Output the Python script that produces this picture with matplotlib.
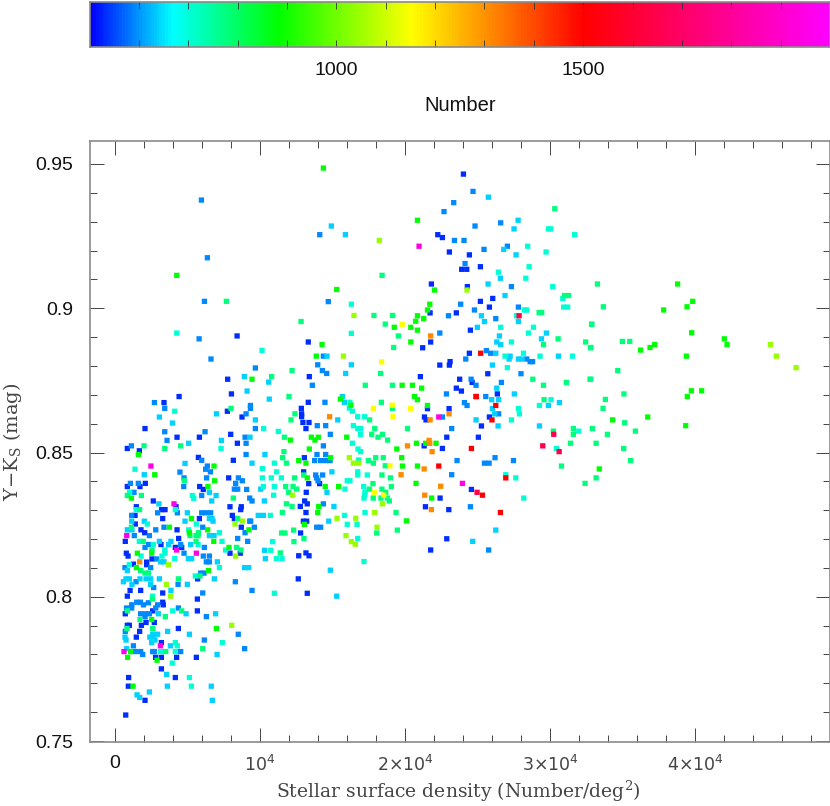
import numpy as np
import matplotlib
matplotlib.use("Agg")
import matplotlib.pyplot as plt
from matplotlib.colors import LinearSegmentedColormap, Normalize
from matplotlib.ticker import FixedLocator, FixedFormatter, MultipleLocator

# (density in thousands per deg^2, Y-Ks colour) grouped by Number class
pts_n530 = [(24.03,.9465),(22.26,.9255),(22.58,.9245),(23.06,.9195),(24.44,.9185),(25.2,.9144),(23.91,.9135),(24.26,.9135),(21.82,.9084),(24.3,.9075),(26.05,.9034),(25.2,.9024),(25.82,.9004),(21.73,.8984),(23.54,.8984),(24.51,.8924),(21.77,.8883),(21.22,.8863),(24.44,.8844),(23.11,.8815),(22.4,.8803),(23.06,.8803),(25.71,.8773),(21.06,.8763),(23.77,.8754),(24.63,.8743),(23.54,.8723),(23.89,.8713),(26.37,.8703),(24.9,.8694),(21.55,.8652),(23.04,.8652),(21.34,.8623),(21.45,.8613),(25.82,.8623),(25.27,.8592),(22.88,.8553),(25.06,.8553),(21.32,.8523),(22.58,.8514),(24.58,.8372),(22.42,.8342),(21.41,.8312),(23.02,.8302),(22.88,.8201),(21.77,.8162),
(13.33,.8883),(13.4,.8763),(13.33,.8674),(12.85,.8653),(12.87,.8634),(12.87,.8624),(12.96,.8604),(13.38,.8604),(13.17,.8583),(13.06,.8482),(13.01,.8433),(14.11,.8392),(13.36,.8392),(13.19,.8362),(13.08,.8332),(13.26,.8322),(12.78,.8313),(13.17,.8292),(12.99,.8262),(13.22,.8262),(12.8,.8221),(13.17,.8152),(13.38,.8142),(12.67,.8142),(12.64,.8062),(13.26,.8012),
(7.77,.8754),(8.03,.8703),(4.42,.8694),(3.38,.8673),(7.75,.8643),(8.76,.8623),(2.07,.8583),(4.28,.8553),(5.82,.8553),(7.98,.8563),(8.44,.8532),(.85,.8514),(8.42,.8904),(1.68,.8506),
(5.75,.8483),(8.16,.8473),(7.84,.8412),(.85,.8382),(2.09,.8393),(1.72,.8382),(5.84,.8382),(6.09,.8372),(2.64,.8332),(4.21,.8312),(1.47,.8312),(3.22,.8302),(3.45,.8302),(7.93,.8312),(8.71,.8312),(8.67,.8302),(1.38,.8282),(3.29,.8271),(8.09,.8282),(8.23,.8271),(5.82,.8271),(1.4,.8252),(8.71,.8241),(1.79,.8232),(2.05,.8222),(4.28,.8232),(4.39,.8202),(.71,.8192),(3.17,.8181),(4.16,.8171),(4.6,.8171),(.78,.8151),(.9,.8141),(2.55,.8131),(8.64,.8151),(7.93,.8151),(1.27,.8113),(2.18,.812),(2.18,.8111),(5.7,.8062),(1.04,.8022),(1.77,.8022),(3.29,.8013),(.85,.8002),(5.68,.7992),(3.29,.7981),(3.33,.7972),(.71,.7941),(5.68,.7951),(2.6,.7951),(2.14,.7911),(2.71,.7911),(.85,.7901),(.99,.7901),(1.82,.7901),(4.37,.789),(1.7,.788),(1.47,.786),(3.2,.7841),(2.8,.779),(3.2,.779),(4.25,.779),(5.61,.779),(3.2,.775),(.94,.772),(4.16,.772),(.92,.769),(2.07,.7641),(.74,.759)]

pts_n590 = [(24.69,.9405),(23.36,.9366),(22.69,.9335),(24.83,.9285),(26.6,.9296),(23.41,.9235),(24.07,.9235),(25.45,.9204),(27.06,.9215),(24.14,.9155),(27.34,.9075),(23.84,.9014),(27.82,.9004),(24.79,.8994),(23.0,.8974),(26.26,.8964),(22.4,.8914),(25.61,.8853),(25.91,.8844),(24.19,.8824),(28.4,.8824),(28.63,.8815),(28.8,.8815),(24.56,.8754),(26.65,.8743),(24.9,.8733),(22.86,.8703),(25.57,.8694),(24.28,.8663),(26.46,.8634),(22.58,.8623),(23.22,.8583),(26.21,.8482),(23.59,.8472),(27.48,.8472),(25.48,.8463),(25.8,.8463),(23.22,.8423),(24.51,.8312),(25.77,.8162),(24.1,.8673),(28.0,.8773),
(14.71,.9023),(14.37,.8834),(13.98,.8804),(9.68,.8793),(14.3,.8784),(14.6,.8774),(13.61,.8733),(14.48,.8674),(13.95,.8593),(14.53,.8593),(9.68,.8583),(14.85,.8563),(14.37,.8523),(13.93,.8493),(14.53,.8493),(13.77,.8472),(14.18,.8472),(14.53,.8472),(14.83,.8472),(13.84,.8422),(14.32,.8422),(13.91,.8412),(14.0,.8402),(9.45,.8332),(14.37,.8322),(9.36,.8262),(9.61,.8241),(13.91,.8241),(14.18,.8241),(9.45,.8022),
(5.96,.9375),(14.12,.9255),(6.37,.9175),(6.17,.9024),(5.8,.8894),(6.62,.8824),(2.72,.8673),(3.43,.8653),(9.34,.8663),(9.34,.8653),(9.04,.8634),(3.43,.8572),(6.21,.8572),(3.59,.8542),(8.97,.8553),(9.04,.8532),(1.13,.8523),
(9.04,.8493),(5.98,.8473),(6.37,.8453),(6.25,.8442),(6.58,.8433),(4.48,.8432),(6.32,.8412),(4.76,.8412),(8.51,.8412),(8.78,.8402),(8.32,.8393),(8.23,.8373),(8.46,.8373),(1.06,.8393),(1.61,.8393),(4.74,.8382),(9.08,.8372),(5.98,.8351),(1.31,.8362),(9.29,.8342),(2.94,.8291),(4.3,.8291),(5.98,.8291),(6.28,.8291),(6.6,.8291),(1.15,.8282),(9.29,.8262),(2.81,.8232),(3.38,.8241),(6.05,.8241),(8.97,.8222),(2.37,.8212),(1.33,.8212),(8.46,.8202),(9.15,.8192),(2.32,.8181),(4.53,.8181),(6.16,.8171),(2.07,.8171),(4.76,.8151),(2.87,.8131),(6.09,.8141),(6.51,.8141),(6.51,.8121),(6.3,.8121),(2.46,.8101),(.69,.8101),(5.91,.8082),(6.14,.8082),(1.45,.8052),(2.67,.8032),(4.35,.8043),(8.3,.8052),(6.05,.8013),(.8,.7961),(1.15,.7972),(1.5,.7981),(1.75,.7981),(1.96,.7972),(2.3,.7979),(2.94,.7972),(2.81,.7961),(1.15,.7961),(4.37,.7961),(6.3,.7931),(1.77,.7941),(2.07,.7931),(2.37,.7941),(2.07,.7941),(.71,.788),(6.16,.785),(8.5,.787),(1.27,.783),(4.53,.781),(1.4,.781),(1.77,.781),(2.6,.781),(2.71,.781),(1.91,.78),(8.94,.782)]

pts_n640 = [(25.75,.9385),(27.8,.9305),(27.52,.9275),(26.81,.9204),(27.66,.9185),(26.58,.9104),(25.73,.9084),(26.9,.9044),(25.27,.8974),(25.48,.8954),(27.82,.8954),(24.99,.8934),(29.75,.8914),(26.51,.8904),(29.41,.8894),(26.33,.8883),(26.6,.8874),(26.26,.8844),(27.18,.8824),(27.82,.8824),(28.07,.8824),(26.03,.8803),(26.33,.8723),(27.54,.8703),(25.98,.8683),(26.46,.8683),(30.65,.8673),(29.89,.8663),(26.03,.8652),(26.19,.8634),(24.9,.8613),(26.42,.8592),(29.27,.8592),(26.26,.8231),(24.67,.8192),(27.25,.8834),(30.58,.8834),
(14.62,.8834),(16.3,.8804),(15.91,.8774),(10.6,.8744),(15.68,.8694),(15.82,.8674),(10.64,.8685),(15.36,.8613),(9.68,.8613),(10.34,.8493),(9.45,.8463),(14.96,.8433),(10.05,.8373),(14.62,.8362),(10.3,.8332),(15.1,.8313),(9.88,.8282),(10.23,.8282),(14.74,.8262),(10.32,.8161),(10.37,.8132),(14.85,.8092),(15.29,.8002),
(14.92,.9285),(15.89,.9255),(9.11,.8713),(8.92,.8763),(7.0,.8634),(3.06,.8623),(3.96,.8602),(7.34,.8542),(9.31,.8553),(5.08,.8532),
(2.02,.8423),(4.83,.8462),(6.51,.8362),(6.97,.8351),(3.03,.8322),(6.67,.8332),(4.99,.8291),(1.15,.8262),(4.83,.8262),(6.51,.8271),(6.69,.8271),(6.76,.8262),(2.02,.8262),(.85,.8232),(1.17,.8232),(6.51,.8212),(6.83,.8212),(3.06,.8192),(3.86,.8192),(3.7,.8181),(5.22,.8181),(5.06,.8132),(5.29,.8132),(3.15,.8121),(3.38,.8121),(7.06,.8121),(8.94,.8101),(9.22,.8101),(.85,.8091),(.76,.8062),(.99,.8062),(.58,.8052),(1.72,.8062),(2.14,.8062),(2.46,.8062),(3.06,.8062),(6.85,.8062),(1.17,.8043),(2.46,.8043),(4.99,.8043),(3.86,.8022),(4.9,.7941),(6.94,.7941),(2.99,.7941),(3.63,.788),(5.13,.787),(2.6,.787),(2.94,.787),(.69,.786),(.76,.785),(2.4,.786),(2.64,.786),(2.76,.785),(2.53,.7841),(3.82,.783),(.81,.782),(7.04,.78),(3.56,.7731),(3.61,.769),(6.64,.769),(2.37,.767),(1.52,.766),(1.7,.7651),(6.71,.7641)]

pts_n700 = [(29.89,.9275),(30.05,.9275),(31.7,.9255),(28.46,.9215),(29.73,.9195),(28.56,.9144),(26.44,.9125),(28.33,.9104),(30.19,.9075),(30.88,.9034),(28.23,.8994),(28.4,.8994),(30.95,.9004),(31.22,.9004),(27.7,.8974),(26.6,.8934),(28.86,.8934),(28.51,.8914),(27.34,.8883),(28.17,.8844),(26.9,.8834),(29.31,.8834),(31.55,.8834),(27.06,.8794),(30.07,.8683),(29.27,.8663),(27.82,.8652),(27.89,.8634),(27.34,.8613),(31.98,.8574),(30.44,.8514),(26.95,.8423),(27.64,.8412),(28.19,.8342),
(32.87,.8945),(32.83,.8864),(32.83,.8754),
(16.3,.9014),(16.3,.8913),(10.14,.8854),(16.2,.8674),(16.16,.8654),(16.37,.8643),(16.74,.8624),(17.22,.8624),(16.44,.8593),(16.74,.8583),(16.94,.8583),(10.25,.8583),(11.26,.8573),(16.94,.8563),(16.37,.8532),(16.76,.8512),(16.94,.8503),(16.8,.8474),(10.99,.8463),(10.16,.8444),(11.15,.8433),(16.74,.8433),(16.74,.8422),(17.4,.8422),(10.16,.8412),(10.78,.8412),(11.47,.8412),(16.02,.8402),(16.2,.8402),(10.23,.8382),(10.99,.8382),(17.15,.8382),(15.86,.8373),(17.24,.8362),(10.94,.8352),(17.22,.8352),(17.17,.8342),(10.71,.8282),(15.84,.8282),(17.24,.8292),(16.02,.8251),(16.69,.8251),(16.74,.8202),(10.87,.8191),(10.74,.8161),(11.13,.8132),(11.52,.8132),(17.17,.8122),(10.99,.8012),
(4.26,.8914),(4.12,.8643),(7.31,.8514),
(1.38,.8442),(1.01,.8362),(5.33,.8351),(5.43,.8341),(1.47,.8302),(4.16,.8302),(2.23,.8252),(5.61,.8252),(5.08,.8232),(7.2,.8222),(1.68,.8192),(7.38,.8192),(2.64,.8181),(5.73,.8181),(3.43,.8162),(7.63,.8162),(3.45,.8151),(3.24,.8141),(1.8,.8141),(4.12,.8132),(.99,.8111),(7.2,.8101),(5.54,.8072),(3.98,.7951),(7.4,.7841),(4.16,.7841),(4.3,.783),(3.15,.781),(4.16,.781),(3.95,.777),(5.13,.772),(5.27,.769),(2.58,.8002)]

pts_n780 = [(30.33,.9345),(33.27,.9084),(31.0,.9044),(31.27,.9044),(29.25,.8985),(29.43,.8985),(32.88,.8944),(30.56,.8894),(29.55,.8874),(32.79,.8863),(28.81,.8754),(32.76,.8754),(31.13,.8743),(29.55,.8733),(29.59,.8683),(20.17,.8583),(30.23,.8574),(31.61,.8583),(32.92,.8583),(31.61,.8563),(31.41,.8532),(33.18,.8532),(33.18,.8412),(32.42,.8393),(30.79,.8453),(32.46,.8883),
(33.68,.9005),(34.99,.8885),(35.5,.8885),(34.67,.8784),(35.1,.8703),(33.66,.8653),(35.15,.8603),(35.89,.8574),(33.96,.8563),(35.08,.8514),(35.56,.8472),(33.82,.8684),
(17.86,.8975),(19.15,.8975),(12.83,.8954),(18.64,.8945),(19.54,.8904),(19.22,.8864),(12.21,.8784),(18.32,.8774),(10.8,.8763),(17.26,.8733),(19.13,.8733),(12.0,.8694),(18.37,.8674),(12.41,.8634),(19.13,.8653),(12.14,.8613),(17.56,.8613),(17.91,.8583),(17.7,.8563),(18.44,.8563),(11.68,.8553),(18.14,.8553),(18.8,.8543),(11.65,.8503),(11.56,.8482),(17.98,.8482),(18.5,.8482),(17.47,.8472),(11.82,.8463),(17.82,.8463),(18.64,.8454),(18.41,.8422),(13.01,.8422),(12.39,.8412),(18.99,.8412),(17.79,.8392),(11.77,.8382),(12.28,.8382),(19.06,.8382),(12.53,.8373),(17.54,.8373),(18.41,.8373),(18.67,.8362),(11.98,.8362),(17.81,.8342),(18.34,.8342),(18.78,.8342),(18.92,.8332),(11.82,.8322),(12.21,.8313),(11.54,.8292),(19.38,.8292),(12.32,.8231),(11.49,.8221),(11.72,.8221),(19.47,.8231),(18.05,.8221),(13.03,.8202),(12.34,.8191),(11.4,.8152),
(7.68,.9024),(18.42,.9114),(8.0,.8653),(4.53,.8523),(2.0,.8523),(3.43,.8514),
(4.78,.8402),(8.16,.8342),(.85,.8351),(1.82,.8351),(1.7,.8302),(8.46,.8271),(1.13,.8241),(5.75,.8222),(5.59,.8212),(5.73,.8212),(5.17,.8212),(1.95,.8192),(5.59,.8192),(2.55,.8162),(8.39,.8171),(8.69,.8162),(1.77,.8091),(2.07,.8082),(2.3,.8082),(4.37,.8062),(5.86,.8072),(4.6,.7951),(.85,.7951),(3.47,.7931),(1.72,.7921),(2.6,.789),(.83,.789),(6.05,.782),(3.5,.781),(2.58,.7992)]

pts_n880 = [(20.86,.9305),(22.03,.9063),(21.71,.9014),(21.55,.8994),(20.86,.8974),(21.29,.8964),(20.74,.8955),(20.4,.8934),(20.86,.8924),(20.4,.8883),(19.8,.8733),(20.51,.8733),(21.15,.8723),(20.65,.8694),(20.86,.8683),(21.55,.8663),(20.79,.8532),(21.43,.8532),(22.14,.8532),(19.77,.8482),(20.86,.8453),(19.82,.8453),(33.4,.8443),(20.76,.8393),(21.84,.8342),(20.1,.8263),
(38.8,.9084),(39.84,.9024),(39.45,.9005),(37.84,.8994),(39.77,.8915),(37.22,.8874),(36.9,.8864),(36.25,.8855),(42.02,.8894),(42.21,.8874),(39.4,.8834),(39.75,.8714),(40.46,.8714),(39.47,.8694),(34.32,.8613),(36.74,.8623),(39.36,.8593),
(14.28,.8874),(13.88,.8834),(9.45,.8754),(15.54,.8685),(16.28,.8664),(15.98,.8553),(13.54,.8553),(14.02,.8553),(13.79,.8543),(12.09,.8543),(13.4,.8512),(19.43,.8512),(14.87,.8482),(12.67,.8472),(13.17,.8463),(13.26,.8412),(14.5,.8382),(15.42,.8382),(14.05,.8313),(13.98,.8292),(13.06,.8251),(19.26,.8934),
(14.37,.9486),(4.26,.9114),(15.29,.9065),
(1.61,.8493),(2.74,.8423),(6.83,.8453),(6.87,.8402),(1.13,.8342),(5.27,.8271),(3.75,.8241),(6.39,.8232),(9.24,.8232),(5.13,.8222),(6.81,.8192),(7.86,.8171),(1.54,.8151),(2.53,.8151),(1.47,.8101),(6.44,.8091),(6.99,.789),(.87,.779),(2.9,.778),(1.24,.769),(1.08,.781),(6.41,.8382),(2.53,.7921)]

pts_n1040 = [(24.28,.9063),(45.2,.8874),(45.61,.8834),(46.97,.8794),(16.48,.8975),(15.75,.8834),(16.16,.8482),(16.44,.8463),(16.8,.8463),(12.25,.8352),(18.44,.8322),(17.91,.8292),(15.31,.8272),(16.6,.8272),(18.07,.8241),(15.93,.8212),(16.3,.8191),(16.57,.8182),(18.23,.9235),(8.78,.8262),(8.28,.8252),(8.32,.8141),(3.68,.8111),(3.54,.8043),(3.84,.8002),(8.05,.7901)]
pts_n1150 = [(19.8,.8944),(20.37,.8652),(18.39,.8814),(19.13,.8664),(17.82,.8653),(19.17,.8624),(18.96,.8454),(17.88,.8362),(18.53,.8352)]
pts_n1310 = [(21.77,.8904),(23.04,.8634),(21.73,.8613),(21.66,.8542),(21.71,.8532),(20.17,.8523),(21.87,.8503),(21.32,.8443),(19.73,.8423),(22.46,.8383),(21.36,.8352),(21.82,.8302),(14.8,.8624),(1.7,.8121)]
pts_n1500 = [(25.22,.8844),(24.92,.8694),(26.26,.8663),(26.0,.8613),(24.58,.8514),(22.33,.8453),(26.95,.8412),(25.34,.8352),(26.58,.8292)]
pts_n1640 = [(27.87,.8974),(30.26,.8563),(29.5,.8523),(30.63,.8503),(24.97,.8362)]
pts_n1950 = [(20.97,.9215),(22.33,.8623),(23.96,.8393),(2.48,.8453),(4.07,.8322),(.81,.8212),(4.25,.8162),(5.61,.8151),(3.13,.783),(.62,.781)]

groups = [(530,pts_n530),(590,pts_n590),(640,pts_n640),(700,pts_n700),(780,pts_n780),(880,pts_n880),
          (1040,pts_n1040),(1150,pts_n1150),(1310,pts_n1310),(1500,pts_n1500),(1640,pts_n1640),(1950,pts_n1950)]

x_major = [0, 10000, 20000, 30000, 40000]
x_labels = ["0", r"$\mathregular{10^{4}}$", r"$\mathregular{2{\times}10^{4}}$",
            r"$\mathregular{3{\times}10^{4}}$", r"$\mathregular{4{\times}10^{4}}$"]
y_major = [0.75, 0.80, 0.85, 0.90, 0.95]
y_labels = ["0.75", "0.8", "0.85", "0.9", "0.95"]
num_min, num_max = 500, 2000
cbar_major = [1000, 1500]
cbar_labels = ["1000", "1500"]

cm_stops = [(500,"#0000ff"),(665,"#00ffff"),(880,"#00ff00"),(1150,"#ffff00"),(1500,"#ff0000"),(2000,"#ff00ff")]
cmap = LinearSegmentedColormap.from_list(
    "rb", [((v-num_min)/(num_max-num_min), c) for v, c in cm_stops], N=256)
norm = Normalize(num_min, num_max)

W, H = 830, 806
plt.rcParams["mathtext.fontset"] = "custom"
plt.rcParams["mathtext.rm"] = "DejaVu Serif"
plt.rcParams["mathtext.it"] = "DejaVu Serif:italic"
plt.rcParams["mathtext.bf"] = "DejaVu Serif:bold"
fig = plt.figure(figsize=(W/100, H/100), dpi=100)
SANS = "Liberation Sans"
FRAME = "#8a8a8a"
INK = "#444444"

def box(l, t, r, b):
    return [l/W, 1-b/H, (r-l)/W, (b-t)/H]

# colour bar
cax = fig.add_axes(box(89.5, 2, 830, 47))
vals = np.linspace(num_min, num_max, 512)[None, :]
cax.imshow(vals, aspect="auto", cmap=cmap, norm=norm,
           extent=[num_min, num_max, 0, 1], interpolation="nearest")
cax.set_yticks([])
cax.xaxis.set_minor_locator(MultipleLocator(100))
cax.set_xticks(cbar_major)
cax.set_xticklabels(cbar_labels, fontfamily=SANS, fontsize=14, color="#111111")
cax.tick_params(axis="x", which="both", direction="in", top=True, bottom=True,
                length=5.2, width=0.6, color="#333333", pad=11)
cax.set_xlabel("Number", fontfamily=SANS, fontsize=14.5, color="#111111", labelpad=12)
for s in cax.spines.values():
    s.set_color(FRAME); s.set_linewidth(1.2)

# scatter
ax = fig.add_axes(box(89.5, 141, 830, 742))
for num, pts in groups:
    arr = np.array(pts)
    sc = ax.scatter(arr[:, 0]*1000, arr[:, 1], c=[num]*len(arr), cmap=cmap, norm=norm,
                    s=14.5, marker="s", linewidths=0)
    sc.set_snap(False)
ax.set_xlim((89.5-115)/145*1e4, (830-115)/145*1e4)
ax.set_ylim(0.95-(742-164)/2885, 0.95+(164-141)/2885)
ax.xaxis.set_major_locator(FixedLocator(x_major))
ax.xaxis.set_major_formatter(FixedFormatter(x_labels))
ax.xaxis.set_minor_locator(MultipleLocator(2000))
ax.yaxis.set_major_locator(FixedLocator(y_major))
ax.yaxis.set_major_formatter(FixedFormatter(y_labels))
ax.yaxis.set_minor_locator(MultipleLocator(0.01))
ax.tick_params(which="major", direction="in", top=True, right=True, length=9.8, width=0.7, color="#444444")
ax.tick_params(which="minor", direction="in", top=True, right=True, length=5, width=0.7, color="#444444")
ax.tick_params(axis="y", which="major", pad=12, labelsize=14, labelcolor="#111111")
ax.tick_params(axis="x", which="major", pad=9, labelsize=12.5, labelcolor=INK)
for lab in ax.get_yticklabels():
    lab.set_fontfamily(SANS)
xt = ax.get_xticklabels()
xt[0].set_fontfamily(SANS); xt[0].set_color("#111111"); xt[0].set_fontsize(14)
for s in ax.spines.values():
    s.set_color(FRAME); s.set_linewidth(1.2)

fig.text(458/W, 1-791/H, r"Stellar surface density (Number/deg$\mathregular{^{2}}$)", ha="center", va="center",
         fontfamily="DejaVu Serif", fontsize=13.5, color=INK)
fig.text(12.5/W, 1-442/H, r"Y$-$K$\mathregular{_{S}}$ (mag)", rotation=90, ha="center", va="center",
         fontfamily="DejaVu Serif", fontsize=14, color=INK)

fig.savefig("out.png", dpi=100)
